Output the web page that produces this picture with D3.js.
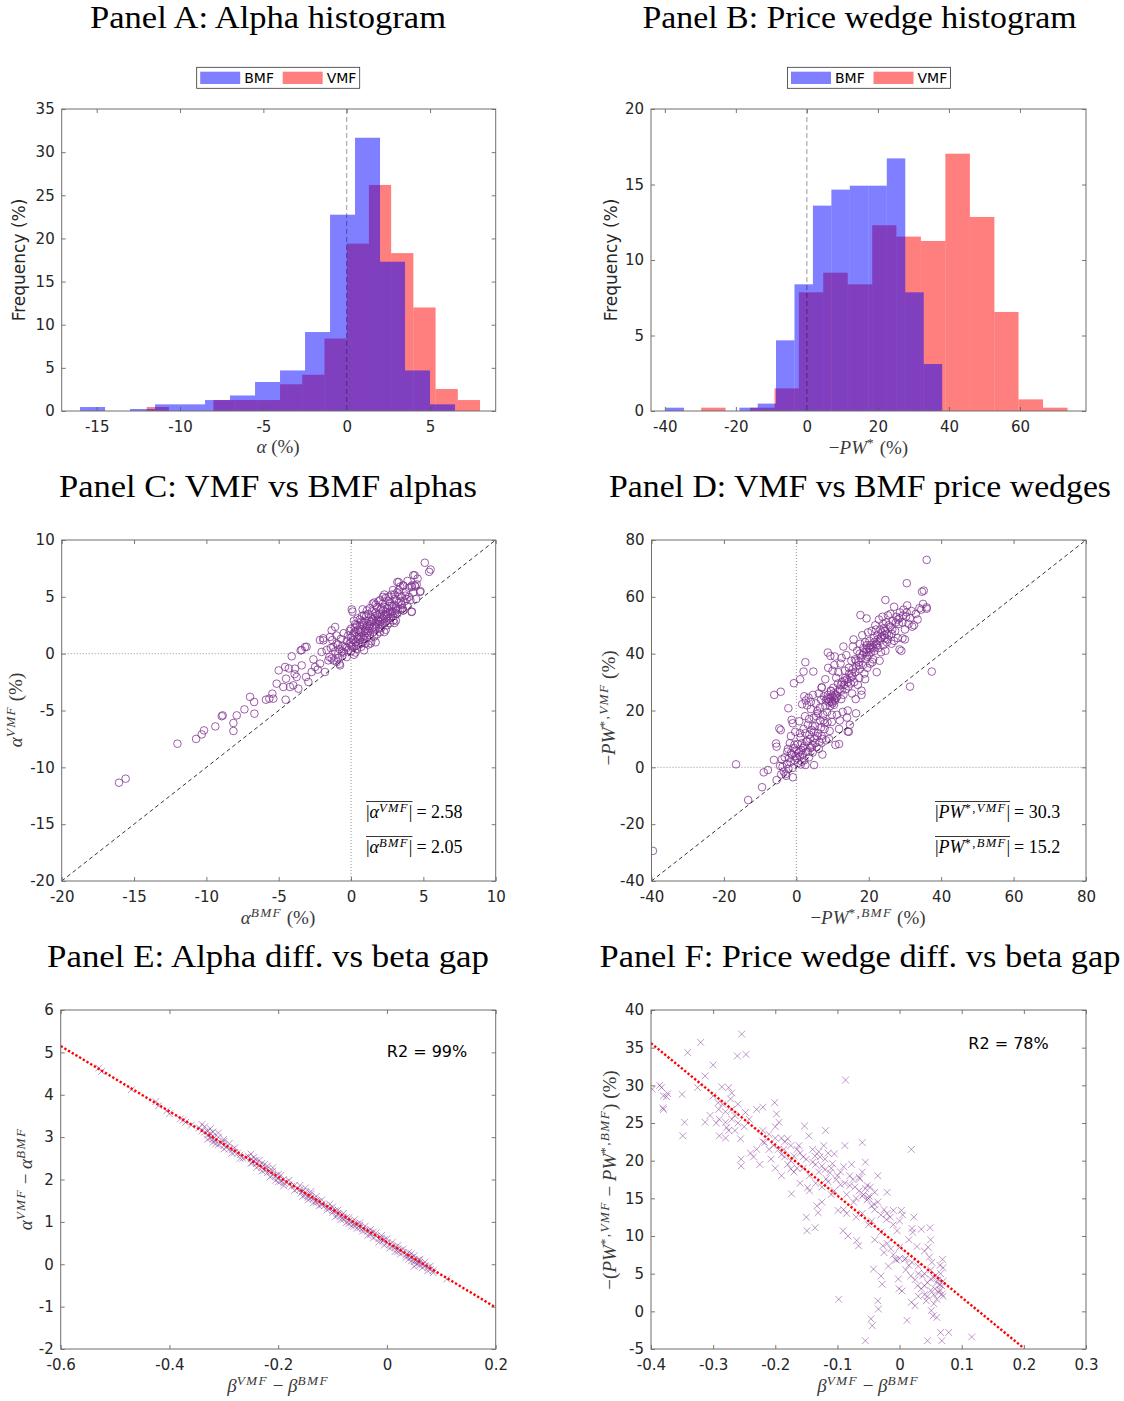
<!DOCTYPE html>
<html>
<head>
<meta charset="utf-8">
<script src="https://cdn.jsdelivr.net/npm/d3@7"></script>
<style>
  body { margin: 0; background: #fff; }
  text { font-family: "DejaVu Sans", sans-serif; }
</style>
</head>
<body>
<div id="chart"></div>
<script>

// ---- Panel A: alpha histograms (frequency in %) ----
var alphaBmfEdges = [-16, -14.5, -13, -11.5, -10, -8.5, -7, -5.5, -4, -2.5, -1, 0.5, 2, 3.5, 5, 6.5];
var alphaBmfFreq  = [0.46, 0, 0.23, 0.77, 0.77, 1.27, 1.8, 3.36, 4.7, 9.15, 22.75, 31.67, 17.3, 4.7, 0.77];
var alphaVmfEdges = [-12, -10.667, -9.333, -8, -6.667, -5.333, -4, -2.667, -1.333, 0, 1.333, 2.667, 4, 5.333, 6.667, 8];
var alphaVmfFreq  = [0.46, 0, 0, 1.27, 1.27, 1.27, 3.1, 4.2, 8.4, 19.4, 26.2, 18.3, 12.0, 2.55, 1.27];

// ---- Panel B: price wedge histograms ----
var pwBmfEdges = [-39.8, -34.6, -29.4, -24.2, -19.0, -13.85, -8.7, -3.5, 1.7, 6.9, 12.1, 17.3, 22.5, 27.7, 32.9, 38.1];
var pwBmfFreq  = [0.22, 0, 0, 0, 0.22, 0.49, 4.68, 8.39, 13.6, 14.66, 14.92, 14.92, 16.73, 7.86, 3.11];
var pwVmfEdges = [-29.76, -22.9, -16.0, -9.1, -2.26, 4.6, 11.5, 18.4, 25.2, 32.1, 39.0, 45.9, 52.8, 59.6, 66.5, 73.4];
var pwVmfFreq  = [0.22, 0, 0.22, 1.5, 7.86, 9.16, 8.39, 12.3, 11.55, 11.26, 17.04, 12.85, 6.56, 0.77, 0.22];

// ---- Panel C: alpha BMF (x) vs alpha VMF (y) ----
var alphaPairs = [
  [-16.04,-11.35],[-15.58,-11.0],[-12.0,-7.92],[-10.71,-7.5],[-10.32,-7.1],[-10.16,-6.75],[-9.38,-6.4],
  [-8.94,-5.5],[-8.87,-5.43],[-8.13,-6.8],[-8.13,-6.1],[-7.9,-5.43],[-7.37,-4.9],[-6.98,-3.8],[-6.68,-5.28],
  [-6.7,-4.25],[-5.88,-4.05],[-5.65,-3.96],[-5.44,-3.52],[-5.37,-3.96],[-5.14,-2.64],[-5.0,-1.47],[-4.56,-1.17],
  [-4.52,-4.05],[-4.49,-2.2],[-4.68,-2.93],[-4.22,-2.93],[-4.1,-0.23],[-3.99,-2.79],[-3.87,-1.32],[-3.76,-2.05],
  [-3.64,-3.08],[-3.48,0.29],[-3.41,-1.03],[-3.18,0.59],[-3.11,-2.05],[-2.95,-2.49],[-2.72,-1.61],[-2.49,-1.17],
  [-2.14,-0.88],[-2.03,0.15],[-1.8,-1.61],[-1.91,1.17],[-1.57,-0.59],[-1.45,1.47],[-1.34,2.05],[-1.1,2.35],
  [-1.22,0.59],[-0.99,-0.73],[-0.88,0],[-0.76,-1.03],[-2.15,1.2],[-1.92,1.35],[-1.69,0.32],[-1.34,-0.43],
  [-3.07,0.6],[-3.41,0.32],[-2.6,-0.5],[-2.3,-1.4],[-4.3,-1.3],[-3.9,-1.8],
  [-1.5,-0.3],[-1.4,0.5],[-1.3,1.2],[-1.2,-0.6],[-1.1,0.2],[-1.0,0.9],[-0.9,-0.4],[-0.8,0.4],[-0.7,1.3],
  [-0.6,-0.2],[-0.6,0.7],[-0.5,1.8],[-0.5,0.1],[-1.0,1.6],[-0.8,-0.9],
  [-0.4,0.6],[-0.3,1.1],[-0.3,-0.3],[-0.2,0.3],[-0.2,1.6],[-0.1,0.9],[0,0.2],[0,1.4],[0,2.2],[0.05,3.9],
  [0.1,3.7],[0.1,0.6],[0.2,1.8],[0.2,-0.1],[0.3,1.0],[0.3,2.6],[0.4,0.4],[0.4,1.5],[0.5,2.1],[0.5,0.8],
  [-0.1,2.0],[0.2,2.9],[0.0,0.7],[0.3,0.1],
  [0.6,1.2],[0.6,3.0],[0.7,0.6],[0.7,1.9],[0.8,2.5],[0.8,1.0],[0.9,3.4],[0.9,1.6],[1.0,0.9],[1.0,2.2],
  [1.0,2.9],[1.1,1.4],[1.1,3.8],[1.2,2.0],[1.2,0.8],[1.3,2.6],[1.3,1.6],[1.4,3.2],[1.4,1.1],[1.5,2.3],
  [1.5,4.4],[0.6,2.4],[0.8,3.9],[1.2,3.5],[1.3,4.0],[0.9,0.3],[1.4,2.8],[0.7,2.8],[1.1,2.5],
  [1.6,1.5],[1.6,2.9],[1.7,3.6],[1.7,2.2],[1.8,1.7],[1.8,4.1],[1.9,2.6],[1.9,3.2],[2.0,1.9],[2.0,4.7],
  [2.1,3.0],[2.1,2.3],[2.2,3.8],[2.2,4.4],[2.3,2.7],[2.3,1.9],[2.4,3.4],[2.4,4.9],[2.5,2.5],[2.5,4.0],
  [1.6,4.5],[1.9,4.6],[2.2,5.0],[2.0,3.5],[1.7,1.0],[2.4,2.1],
  [2.6,3.1],[2.6,4.6],[2.7,3.7],[2.7,2.7],[2.8,5.2],[2.8,4.2],[2.9,3.3],[3.0,4.8],[3.0,2.7],[3.1,4.0],
  [3.2,5.4],[3.2,3.5],[3.3,6.3],[3.3,4.5],[3.4,3.9],[3.5,5.0],[3.5,4.3],[2.9,5.6],[3.1,2.9],[3.4,5.9],
  [3.6,3.8],[3.6,6.0],[3.7,4.6],[3.8,5.4],[3.9,4.2],[4.0,5.0],[4.0,5.8],[4.2,3.7],[4.3,6.9],[4.3,5.4],
  [4.4,6.0],[4.45,5.9],[4.5,4.8],[4.8,5.5],[4.4,6.9],[4.1,4.7],[5.1,8.0],[5.4,7.2],[5.5,7.4],
  [3.2,6.3],[2.93,2.93],[3.62,3.81],[4.19,3.67],[4.77,5.43],[4.54,6.1],[4.19,5.87],[3.62,6.0],
  [0.15,1.2],[0.25,2.3],[0.35,0.7],[0.45,3.1],[0.55,1.6],[0.65,0.9],[0.75,3.3],[0.85,1.3],[0.95,2.0],
  [1.05,3.3],[1.15,1.8],[1.25,2.9],[1.35,0.9],[1.45,3.7],[1.55,1.9],[1.65,3.3],[1.75,2.6],[1.85,3.0],
  [1.95,2.2],[2.05,3.9],[2.15,2.6],[2.25,3.3],[2.35,4.1],[2.45,2.9],[2.55,3.5],[2.65,4.2],[2.75,3.2],
  [2.85,3.7],[2.95,4.3],[3.05,3.6],[3.15,4.7],[3.25,3.9],[3.35,5.1],[3.45,4.6],[3.55,4.0],[3.75,5.1],
  [3.85,4.8],[0.1,1.6],[0.4,2.5],[0.7,1.5],[1.0,1.8],[1.3,2.2],[1.6,2.4],[1.9,2.9],[2.2,3.1],[2.5,3.3],
  [2.8,3.5],[3.1,3.8],[-0.3,0.5],[-0.6,0.2],[-0.9,0.8],[0.5,1.3],[0.9,2.7],[1.2,2.4],[1.5,3.0],[1.8,3.4],
  [2.1,4.0],[2.4,3.7],[2.7,4.5],[3.0,5.2],[0.0,1.0],[0.3,1.9],[0.6,2.0],[1.7,4.3],[2.0,2.8],[2.3,5.2],
  [2.6,5.0],[3.3,5.6],[3.9,6.4],[4.2,6.0],[4.6,6.6]
];
var alphaMeanVmf = "2.58";
var alphaMeanBmf = "2.05";

// ---- Panel D: -PW BMF (x) vs -PW VMF (y) ----
var pwPairs = [
  [-39.6,-29.4],[-16.65,1.06],[-13.3,-11.5],[-9.47,-7.0],[-9.0,-1.76],[-7.85,-0.94],[-6.1,25.5],[-4.3,26.6],
  [-5.6,8.4],[-5.45,7.27],[-6.2,2.6],[-5.45,-4.5],[-4.7,13.7],[-4.3,13.1],[-2.2,20.8],[-1.3,16.7],
  [-0.67,29.6],[1.05,31.0],[2.5,37.0],[-0.96,-3.5],[2.0,33.7],[4.7,33.7],[4.9,0.8],[7.0,28.2],[8.7,40.4],
  [9.4,39.2],[10.8,7.9],[11.8,8.2],[14.2,12.6],[15.6,42.5],[17.7,53.6],[19.4,52.4],[24.6,58.9],[30.5,64.8],
  [36.0,73.0],[31.4,28.4],[37.4,33.7],[34.7,61.8],[35.2,62.2],[36.0,56.3],[29.3,45.4],[28.5,41.5],
  [-4.5,0.5],[-4,2.8],[-3.5,-1.5],[-3.2,3.5],[-3,-2.4],[-2.6,1.2],[-2.5,5.5],[-2.2,-0.5],[-2,3.2],
  [-1.8,8.5],[-1.6,1.8],[-1.5,11.0],[-1.2,4.5],[-1,-0.2],[-0.8,6.8],[-0.5,2.5],[-0.3,12.5],[-0.2,4.0],
  [-2.8,-3.0],[-3.8,0.2],[-4.2,-2.5],[-1,15.5],[-2.3,6.5],
  [0.2,3.2],[0.4,8.2],[0.6,5.0],[0.8,16.2],[1,3.8],[1.2,10.5],[1.4,6.0],[1.6,22.2],[1.8,4.5],[2,13.5],
  [2.2,7.5],[2.4,18.0],[2.6,23.5],[2.8,5.5],[3,9.2],[3.2,15.0],[3.4,24.5],[3.6,11.5],[3.8,6.8],[4,20.5],
  [4.2,13.2],[4.4,8.0],[4.6,25.5],[4.8,17.5],[5,10.2],[0.5,1.5],[1.5,2.0],[2.5,0.8],[3.5,3.5],[4.5,5.2],
  [2.2,25.0],[3.0,21.8],[4.0,23.0],[1.0,12.0],
  [5.2,14.5],[5.4,22.5],[5.6,7.2],[5.8,19.8],[6,12.0],[6.2,26.0],[6.4,9.0],[6.6,16.5],[6.8,23.8],[7,11.0],
  [7.2,4.5],[7.4,18.5],[7.6,25.0],[7.8,13.5],[8,21.5],[8.2,9.5],[8.4,24.2],[8.6,15.8],[8.8,35.0],[9,22.8],
  [9.2,12.8],[9.4,24.5],[9.6,26.8],[9.8,18.5],[10,25.0],[8.9,24.0],[9.5,23.2],[10,22.5],[6,19.0],[7,28.0],
  [8,31.0],[9,10.0],[10,34.0],[9.8,16.0],
  [10.2,28.0],[10.4,22.0],[10.6,39.0],[10.8,25.5],[11,31.5],[11.2,18.5],[11.4,26.5],[11.6,33.5],[11.8,13.5],
  [12,27.5],[12.2,36.5],[12.4,24.0],[12.6,30.0],[12.8,19.5],[13,42.5],[13.2,29.0],[13.4,34.0],[13.6,27.5],
  [13.8,39.5],[14,31.0],[14.2,20.0],[14.4,28.5],[14.6,33.0],[14.8,15.0],[15,29.5],[15.2,37.5],[12,16.5],
  [14,17.5],[11,24.5],[13,25.5],[15,31.5],[14.5,12.5],[12.5,38.5],[10.5,36.0],
  [15.4,26.0],[15.6,34.5],[15.8,45.0],[16,30.0],[16.2,38.0],[16.4,24.0],[16.6,35.5],[16.8,41.0],[17,29.0],
  [17.2,37.0],[17.4,31.5],[17.6,43.5],[17.8,38.5],[18,25.5],[18.2,46.5],[18.4,36.0],[18.6,40.5],[18.8,33.0],
  [19,44.0],[19.2,38.0],[19.4,41.5],[19.6,35.0],[19.8,47.5],[20,39.5],[16.5,19.0],[18,27.0],[19,31.0],
  [17.5,40.0],[19.5,43.0],[20,42.0],
  [20.2,44.5],[20.4,36.5],[20.6,40.5],[20.8,48.0],[21,42.5],[21.2,38.0],[21.4,45.5],[21.6,41.0],[21.8,50.0],
  [22,43.5],[22.2,33.5],[22.4,46.5],[22.6,42.0],[22.8,52.0],[23,44.5],[23.2,48.5],[23.4,40.5],[23.6,46.0],
  [23.8,53.0],[24,43.0],[24.2,49.0],[24.4,45.5],[24.6,41.0],[24.8,51.0],[25,47.0],[21,37.0],[23,37.5],
  [25,44.0],[22,48.5],[24,50.5],
  [25.3,53.5],[25.6,46.5],[26,49.5],[26.3,43.5],[26.6,51.5],[27,56.5],[27.3,48.0],[27.6,53.0],[28,45.5],
  [28.3,50.5],[28.6,54.5],[29,41.0],[29.3,51.0],[29.6,55.5],[30,48.5],[30.3,53.0],[30.6,57.0],[31,50.5],
  [31.4,52.5],[31.8,55.0],[32,49.5],[32.5,50.0],[33,54.0],[33.5,52.0],[34,56.0],[34.5,55.5],[35,57.5],
  [36,55.8],[26,54.0],[28,52.0],[30,45.0],[27,44.5],
  [1.5,8.5],[2.5,12.0],[3.5,17.0],[4.5,14.5],[5.5,18.0],[6.5,21.0],[7.5,16.5],[8.5,19.5],[9.5,27.0],
  [10.5,24.0],[11.5,29.5],[12.5,27.0],[13.5,31.5],[14.5,35.0],[15.5,32.0],[16.5,37.5],[17.5,34.5],[18.5,42.0],
  [19.5,39.0],[20.5,43.0],[21.5,44.0],[22.5,45.0],[23.5,47.5],[24.5,48.0],[25.5,50.0],[26.5,48.5],[27.5,51.0],
  [28.5,52.5],[29.5,53.5],[30.5,54.5],[8.2,23.5],[8.7,25.5],[9.3,21.5],[9.9,23.0],[10.3,26.0],[10.7,23.5],
  [11.3,25.0],[12.3,29.0],[13.3,30.5],[14.3,30.0],[15.3,33.0],[16.3,33.5],[17.3,36.0],[18.3,39.5],[19.3,40.5],
  [20.3,41.5],[21.3,42.0],[22.3,43.0],[23.3,45.5],[24.3,46.5],[25.3,45.0],[26.3,47.0],[0.8,5.5],[1.8,6.8],
  [2.8,9.0],[3.8,10.0],[4.8,12.5],[5.8,11.0],[6.8,14.0],[7.8,15.5],[1.2,1.0],[2.2,2.5],[3.2,5.5],[4.2,7.0],
  [5.2,8.5],[6.2,6.5],[7.2,10.0],[0.0,6.0],[-0.5,8.0],[-1.5,5.0]
];
var pwMeanVmf = "30.3";
var pwMeanBmf = "15.2";

// ---- Panel E: beta gap (x) vs alpha difference (y) ----
var alphaDiff = [
  [-0.53,4.63],[-0.525,4.55],[-0.47,4.12],[-0.425,3.84],[-0.42,3.74],[-0.405,3.62],[-0.40,3.55],[-0.38,3.43],
  [-0.375,3.40],[-0.37,3.35],[-0.36,3.28],[-0.345,3.22],[-0.34,3.30],[-0.335,3.12],[-0.33,3.05],[-0.33,3.14],
  [-0.325,2.98],[-0.325,3.08],[-0.32,2.95],[-0.32,3.03],[-0.315,2.92],[-0.31,3.0],[-0.305,2.86],[-0.30,2.80],
  [-0.30,2.90],[-0.295,2.76],[-0.29,2.72],[-0.285,2.70],[-0.28,2.64],[-0.275,2.62],[-0.27,2.58],[-0.26,2.52],
  [-0.25,2.48],[-0.248,2.40],[-0.245,2.44],[-0.24,2.38],[-0.24,2.46],[-0.235,2.33],[-0.23,2.28],[-0.23,2.38],
  [-0.225,2.22],[-0.22,2.25],[-0.22,2.16],[-0.215,2.18],[-0.21,2.10],[-0.21,2.20],[-0.205,2.08],[-0.20,2.02],
  [-0.20,2.12],[-0.195,1.96],[-0.19,2.0],[-0.19,1.92],[-0.185,1.94],[-0.18,1.88],[-0.175,1.84],[-0.17,1.86],
  [-0.165,1.78],[-0.16,1.76],[-0.158,1.68],[-0.155,1.72],[-0.15,1.64],[-0.15,1.70],[-0.145,1.62],[-0.145,1.58],
  [-0.14,1.56],[-0.14,1.66],[-0.135,1.55],[-0.13,1.50],[-0.13,1.46],[-0.125,1.48],[-0.12,1.42],[-0.12,1.40],
  [-0.115,1.38],[-0.11,1.34],[-0.105,1.32],[-0.10,1.27],[-0.10,1.22],[-0.095,1.26],[-0.09,1.20],[-0.09,1.16],
  [-0.085,1.14],[-0.08,1.12],[-0.08,1.06],[-0.075,1.10],[-0.07,1.02],[-0.07,0.96],[-0.065,1.00],[-0.06,0.96],
  [-0.06,0.90],[-0.055,0.94],[-0.05,0.86],[-0.05,0.92],[-0.045,0.84],[-0.04,0.80],[-0.035,0.78],[-0.03,0.74],
  [-0.03,0.70],[-0.025,0.76],[-0.02,0.66],[-0.015,0.60],[-0.01,0.62],[-0.008,0.55],[-0.005,0.58],[0.0,0.50],
  [0.005,0.46],[0.01,0.42],[0.015,0.40],[0.02,0.36],[0.02,0.30],[0.025,0.33],[0.03,0.28],[0.035,0.22],
  [0.04,0.20],[0.04,0.12],[0.045,0.16],[0.05,0.12],[0.05,0.06],[0.055,0.08],[0.06,0.04],[0.06,-0.02],
  [0.065,0.0],[0.07,-0.04],[0.075,-0.08],[0.08,-0.12],[0.085,-0.15],[0.11,-0.35],
  [-0.34,3.15],[-0.335,3.25],[-0.33,2.95],[-0.325,3.2],[-0.32,3.12],[-0.315,2.84],[-0.31,3.1],[-0.3,2.95],
  [-0.29,2.85],[-0.28,2.75],[-0.27,2.5],[-0.255,2.55],[-0.25,2.38],[-0.245,2.52],[-0.24,2.28],[-0.235,2.45],
  [-0.23,2.2],[-0.225,2.36],[-0.22,2.32],[-0.215,2.06],[-0.21,2.28],[-0.205,1.98],[-0.2,1.94],[-0.195,2.1],
  [-0.19,1.85],[-0.18,1.98],[-0.17,1.74],[-0.16,1.86],[-0.155,1.6],[-0.15,1.8],[-0.145,1.52],[-0.14,1.72],
  [-0.135,1.45],[-0.13,1.6],[-0.125,1.38],[-0.12,1.52],[-0.11,1.28],[-0.105,1.42],[-0.1,1.35],[-0.095,1.12],
  [-0.09,1.28],[-0.085,1.05],[-0.08,1.2],[-0.075,0.98],[-0.07,1.1],[-0.065,0.9],[-0.06,1.05],[-0.055,0.85],
  [-0.05,0.98],[-0.045,0.78],[-0.04,0.9],[-0.035,0.68],[-0.03,0.82],[-0.025,0.62],[-0.02,0.74],[-0.015,0.52],
  [-0.01,0.68],[-0.005,0.45],[0,0.6],[0.005,0.38],[0.01,0.52],[0.015,0.3],[0.02,0.44],[0.025,0.24],
  [0.03,0.36],[0.035,0.16],[0.04,0.28],[0.045,0.08],[0.05,0.2],[0.055,0.0],[0.06,0.12],[0.065,-0.08],
  [0.07,0.05],[0.075,-0.15],[0.08,-0.04],[0.085,-0.2],[0.05,-0.05],[0.06,0.1],[0.045,0.25],[-0.25,2.6],
  [-0.265,2.5],[-0.285,2.62],[-0.3,2.72],[-0.31,2.82],[-0.32,2.88]
];
var alphaFit = [[-0.6, 5.15], [0.2, -1.02]];
var alphaR2 = "R2 = 99%";

// ---- Panel F: beta gap (x) vs price wedge difference (y) ----
var pwDiff = [
  [-0.398,29.5],[-0.386,30.0],[-0.383,29.7],[-0.38,28.6],[-0.381,27.0],[-0.373,28.9],[-0.35,28.8],[-0.349,23.3],
  [-0.346,25.1],[-0.341,34.35],[-0.325,29.7],[-0.32,35.7],[-0.313,31.25],[-0.313,25.1],[-0.3,32.7],[-0.3,28.6],
  [-0.292,27.7],[-0.291,26.8],[-0.29,23.3],[-0.286,29.8],[-0.28,25.1],[-0.278,24.4],[-0.275,29.7],[-0.272,28.2],
  [-0.27,26.8],[-0.261,33.9],[-0.26,27.5],[-0.256,22.9],[-0.255,20.2],[-0.254,36.8],[-0.255,19.3],[-0.247,34.1],
  [-0.248,26.4],[-0.242,25.5],[-0.23,26.8],[-0.22,27.1],[-0.217,22.4],[-0.207,20.2],[-0.201,27.7],[-0.198,26.2],
  [-0.203,22.0],[-0.194,25.1],[-0.186,21.5],[-0.18,22.9],[-0.174,15.6],[-0.175,18.9],[-0.17,20.6],[-0.162,22.0],
  [-0.153,24.6],[-0.148,16.4],[-0.15,12.5],[-0.149,10.7],[-0.146,23.3],[-0.136,20.6],[-0.133,14.0],[-0.131,13.1],
  [-0.136,11.1],[-0.125,19.3],[-0.122,22.0],[-0.119,24.0],[-0.118,17.6],[-0.112,18.4],[-0.105,20.9],[-0.099,13.4],
  [-0.098,1.6],[-0.091,10.7],[-0.088,22.0],[-0.087,30.7],[-0.083,10.0],[-0.08,16.7],[-0.077,19.5],[-0.074,14.5],
  [-0.069,9.4],[-0.066,8.7],[-0.064,17.6],[-0.06,22.4],[-0.06,15.3],[-0.055,19.8],[-0.055,-3.9],[-0.052,16.7],
  [-0.049,15.3],[-0.046,-1.0],[-0.044,-1.9],[-0.042,5.6],[-0.041,14.2],[-0.035,18.0],[-0.035,1.4],[-0.034,0.3],
  [-0.03,4.7],[-0.028,3.6],[-0.027,8.7],[-0.021,12.2],[-0.02,15.8],[-0.014,8.3],[-0.01,13.4],[-0.007,6.9],
  [-0.004,10.7],[-0.002,4.3],[-0.001,3.0],[0.003,13.4],[0.004,2.7],[0.008,6.9],[0.012,-1.2],[0.015,6.1],
  [0.018,4.7],[0.019,21.5],[0.019,1.2],[0.021,10.5],[0.023,12.5],[0.025,0.75],[0.028,8.6],[0.029,3.4],
  [0.035,10.9],[0.037,4.7],[0.04,3.4],[0.043,1.4],[0.046,8.5],[0.045,-3.9],[0.049,11.1],[0.05,4.3],
  [0.051,0.1],[0.054,-0.6],[0.057,3.0],[0.06,-0.8],[0.063,2.5],[0.065,6.1],[0.066,-2.8],[0.068,2.3],
  [0.069,6.9],[0.068,-3.9],[0.079,-2.8],[0.116,-3.4],[0.068,3.4],
  [-0.21,21.5],[-0.19,20.8],[-0.18,19.5],[-0.16,21.0],[-0.14,19.8],[-0.13,18.5],[-0.12,20.2],[-0.11,19.0],
  [-0.10,18.0],[-0.09,19.2],[-0.13,21.2],[-0.115,17.2],[-0.095,16.8],[-0.075,17.5],[-0.065,16.0],[-0.05,15.0],
  [-0.045,14.0],[-0.04,15.8],[-0.02,13.0],[0.0,12.0],[0.01,7.0],[0.03,6.0],[0.04,5.0],[0.05,5.5],[0.055,4.5],
  [0.06,3.8],[0.065,2.8],[0.07,4.0],[0.045,2.0],[0.055,1.0],[-0.27,25.5],[-0.28,26.5],[-0.26,25.0],[-0.275,24.0],
  [-0.285,27.5],[-0.265,26.0],[-0.29,25.5],[-0.25,24.5],[-0.23,21.5],[-0.22,22.5],[-0.2,23.0],[-0.195,21.5],
  [-0.185,22.5],[-0.175,20.0],[-0.165,19.0],[-0.155,20.5],[-0.145,18.0],[-0.135,17.0],[-0.125,16.5],
  [-0.105,16.0],[-0.085,15.5],[-0.07,15.0],[-0.06,18.5],[-0.055,16.3],
  [-0.2,19.0],[-0.19,18.0],[-0.185,20.5],[-0.175,22.0],[-0.165,21.5],[-0.155,19.0],[-0.15,20.2],[-0.14,21.5],
  [-0.135,19.5],[-0.128,20.5],[-0.12,18.8],[-0.115,21.0],[-0.108,19.6],[-0.102,17.5],[-0.095,18.5],[-0.088,17.0],
  [-0.08,18.0],[-0.072,16.5],[-0.065,17.8],[-0.058,15.5],[-0.052,14.8],[-0.047,16.5],[-0.04,13.5],[-0.035,14.5],
  [-0.03,12.8],[-0.025,13.5],[-0.015,12.5],[-0.01,11.5],[0.005,12.8],[0.02,11.0],[0.03,2.0],[0.035,3.0],
  [0.04,2.2],[0.045,3.8],[0.05,2.8],[0.055,2.2],[0.06,1.6],[0.065,3.5],[0.07,2.0],[0.058,4.8],[0.062,4.2],
  [0.066,5.0],[0.07,5.8],[0.052,6.5],[0.048,7.2],[0.03,5.0],[0.025,4.2],[0.02,6.5],[0.01,5.5],[0.0,7.0],
  [-0.005,6.8],[-0.01,7.5],[-0.018,6.0],[-0.025,7.8],[-0.04,9.5],[-0.05,11.5],[-0.07,12.5],[-0.085,13.0],
  [-0.22,24.0],[-0.21,23.5],[-0.2,24.5],[-0.19,23.0],[-0.235,20.5],[-0.225,19.5],[-0.24,21.0],[-0.28,23.0],
  [-0.295,25.0],[-0.305,26.0],[-0.265,24.0],[-0.38,26.8],[-0.375,28.5],[-0.27,29.0],[-0.16,17.0],[-0.17,18.5],
  [-0.145,16.0],[-0.125,14.5],[-0.11,15.5],[-0.09,13.5],[-0.06,13.0],[-0.045,12.0],[-0.03,10.5],[-0.02,9.0],
  [0.0,8.5],[0.015,9.5],[0.04,8.0],[0.05,9.5]
];
var pwFit = [[-0.4, 35.6], [0.2, -4.9]];
var pwR2 = "R2 = 78%";

var legendLabels = ["BMF", "VMF"];

// ---------------------------------------------------------------------------

var purple = "#7e2f8e";
var axisColor = "#262626";
var mathSize = 19;

var svg = d3.select("#chart").append("svg")
    .attr("width", 1124)
    .attr("height", 1401);

// titles
var titles = [
    {text: "Panel A: Alpha histogram", x: 268, y: 28, len: 356},
    {text: "Panel B: Price wedge histogram", x: 859.5, y: 28, len: 434},
    {text: "Panel C: VMF vs BMF alphas", x: 268, y: 497, len: 418},
    {text: "Panel D: VMF vs BMF price wedges", x: 860, y: 497, len: 502},
    {text: "Panel E: Alpha diff. vs beta gap", x: 268, y: 967, len: 442},
    {text: "Panel F: Price wedge diff. vs beta gap", x: 860, y: 967, len: 521}
];
svg.selectAll(".title").data(titles).enter().append("text")
    .attr("class", "title")
    .attr("x", function(d) { return d.x; })
    .attr("y", function(d) { return d.y; })
    .attr("text-anchor", "middle")
    .attr("textLength", function(d) { return d.len; })
    .attr("lengthAdjust", "spacingAndGlyphs")
    .style("font-family", "'Liberation Serif', serif")
    .style("font-size", "32px")
    .style("fill", "#000")
    .text(function(d) { return d.text; });

// rich text: parts with italic / superscript flags
function rich(textSel, parts, size) {
    var shift = 0;
    parts.forEach(function(p) {
        var target = p.sup ? -0.36 * size : 0;
        var ts = textSel.append("tspan")
            .attr("dy", target - shift)
            .style("font-size", (p.sup ? size * 0.7 : size) + "px")
            .text(p.t);
        if (p.sup) ts.style("letter-spacing", "1.3px");
        if (p.it) ts.style("font-style", "italic");
        shift = target;
    });
    return textSel;
}

function mathLabel(x, y, parts, size, rotate) {
    var t = svg.append("text")
        .attr("text-anchor", "middle")
        .style("font-family", "'Liberation Serif', serif")
        .style("fill", "#3a3a3a");
    if (rotate) {
        t.attr("transform", "translate(" + x + "," + y + ") rotate(-90)");
    } else {
        t.attr("x", x).attr("y", y);
    }
    return rich(t, parts, size);
}

function sansLabel(x, y, text, size, rotate) {
    var t = svg.append("text")
        .attr("text-anchor", "middle")
        .style("font-size", size + "px")
        .style("fill", axisColor)
        .text(text);
    if (rotate) t.attr("transform", "translate(" + x + "," + y + ") rotate(-90)");
    else t.attr("x", x).attr("y", y);
    return t;
}

function makePanel(frame, xdom, ydom) {
    var p = {frame: frame};
    p.x = d3.scaleLinear().domain(xdom).range([frame.x0, frame.x1]);
    p.y = d3.scaleLinear().domain(ydom).range([frame.y1, frame.y0]);
    p.g = svg.append("g");
    var id = "clip" + Math.round(frame.x0) + "_" + Math.round(frame.y0);
    svg.append("clipPath").attr("id", id).append("rect")
        .attr("x", frame.x0).attr("y", frame.y0)
        .attr("width", frame.x1 - frame.x0).attr("height", frame.y1 - frame.y0);
    p.plot = p.g.append("g").attr("clip-path", "url(#" + id + ")");
    return p;
}

function drawAxes(p, xticks, yticks) {
    var f = p.frame;
    var fmt = function(d) { return String(d); };
    var styleAxis = function(g) {
        g.select(".domain").remove();
        g.selectAll(".tick line").attr("stroke", "#555").attr("stroke-width", 0.8);
        g.selectAll("text")
            .style("font-family", "'DejaVu Sans', sans-serif")
            .style("font-size", "15px")
            .style("fill", axisColor);
    };
    p.g.append("g").attr("transform", "translate(0," + f.y1 + ")")
        .call(d3.axisBottom(p.x).tickValues(xticks).tickFormat(fmt).tickSizeInner(-4).tickSizeOuter(0).tickPadding(10))
        .call(styleAxis);
    p.g.append("g").attr("transform", "translate(0," + f.y0 + ")")
        .call(d3.axisTop(p.x).tickValues(xticks).tickFormat("").tickSizeInner(-4).tickSizeOuter(0))
        .call(styleAxis);
    p.g.append("g").attr("transform", "translate(" + f.x0 + ",0)")
        .call(d3.axisLeft(p.y).tickValues(yticks).tickFormat(fmt).tickSizeInner(-4).tickSizeOuter(0).tickPadding(7))
        .call(styleAxis);
    p.g.append("g").attr("transform", "translate(" + f.x1 + ",0)")
        .call(d3.axisRight(p.y).tickValues(yticks).tickFormat("").tickSizeInner(-4).tickSizeOuter(0))
        .call(styleAxis);
    p.g.append("rect")
        .attr("x", f.x0).attr("y", f.y0)
        .attr("width", f.x1 - f.x0).attr("height", f.y1 - f.y0)
        .attr("fill", "none").attr("stroke", "#6e6e6e").attr("stroke-width", 1);
}

function drawHist(p, edges, freq, color) {
    var bins = freq.map(function(v, i) { return {x0: edges[i], x1: edges[i + 1], v: v}; })
        .filter(function(d) { return d.v > 0; });
    p.plot.append("g").selectAll("rect").data(bins).enter().append("rect")
        .attr("x", function(d) { return p.x(d.x0); })
        .attr("width", function(d) { return p.x(d.x1) - p.x(d.x0); })
        .attr("y", function(d) { return p.y(d.v); })
        .attr("height", function(d) { return p.y(0) - p.y(d.v); })
        .attr("fill", color)
        .attr("fill-opacity", 0.5);
}

function drawLegend(x, y) {
    var g = svg.append("g").attr("transform", "translate(" + x + "," + y + ")");
    g.append("rect").attr("width", 163).attr("height", 21)
        .attr("fill", "#fff").attr("stroke", "#333").attr("stroke-width", 0.8);
    var items = [{label: legendLabels[0], color: "#0000ff", dx: 3.5}, {label: legendLabels[1], color: "#ff0000", dx: 86}];
    items.forEach(function(it) {
        g.append("rect").attr("x", it.dx).attr("y", 4.4).attr("width", 40).attr("height", 12.3)
            .attr("fill", it.color).attr("fill-opacity", 0.5);
        g.append("text").attr("x", it.dx + 44).attr("y", 15.5)
            .style("font-size", "14px").style("fill", "#000").text(it.label);
    });
}

function zeroVLine(p, dash, color, op) {
    p.plot.append("line")
        .attr("x1", p.x(0)).attr("x2", p.x(0))
        .attr("y1", p.frame.y0).attr("y2", p.frame.y1)
        .attr("stroke", color).attr("stroke-opacity", op)
        .attr("stroke-width", 0.9).attr("stroke-dasharray", dash);
}
function zeroHLine(p, dash, color, op) {
    p.plot.append("line")
        .attr("x1", p.frame.x0).attr("x2", p.frame.x1)
        .attr("y1", p.y(0)).attr("y2", p.y(0))
        .attr("stroke", color).attr("stroke-opacity", op)
        .attr("stroke-width", 0.9).attr("stroke-dasharray", dash);
}
function diagonal(p) {
    var d = p.x.domain();
    p.plot.append("line")
        .attr("x1", p.x(d[0])).attr("y1", p.y(d[0]))
        .attr("x2", p.x(d[1])).attr("y2", p.y(d[1]))
        .attr("stroke", "#000").attr("stroke-width", 0.8).attr("stroke-dasharray", "4,3");
}
function circles(p, pts) {
    p.plot.append("g").selectAll("circle").data(pts).enter().append("circle")
        .attr("cx", function(d) { return p.x(d[0]); })
        .attr("cy", function(d) { return p.y(d[1]); })
        .attr("r", 3.8)
        .attr("fill", "none")
        .attr("stroke", purple)
        .attr("stroke-opacity", 0.85)
        .attr("stroke-width", 0.9);
}
function crosses(p, pts) {
    var s = 3.4;
    p.plot.append("g").selectAll("path").data(pts).enter().append("path")
        .attr("d", function(d) {
            var cx = p.x(d[0]), cy = p.y(d[1]);
            return "M" + (cx - s) + "," + (cy - s) + "L" + (cx + s) + "," + (cy + s) +
                   "M" + (cx - s) + "," + (cy + s) + "L" + (cx + s) + "," + (cy - s);
        })
        .attr("stroke", purple)
        .attr("stroke-opacity", 0.55)
        .attr("stroke-width", 0.9)
        .attr("fill", "none");
}
function fitLine(p, pts) {
    p.plot.append("path")
        .datum(pts)
        .attr("d", d3.line().x(function(d) { return p.x(d[0]); }).y(function(d) { return p.y(d[1]); }))
        .attr("stroke", "#ff0000").attr("stroke-width", 2.4)
        .attr("stroke-dasharray", "2.3,2").attr("fill", "none");
}
function meanNote(x, y, sym, supParts, value) {
    var t = svg.append("text").attr("x", x).attr("y", y)
        .style("font-family", "'Liberation Serif', serif").style("fill", "#000");
    var parts = [{t: "|"}].concat(sym).concat(supParts).concat([{t: "|"}]);
    rich(t, parts, 18);
    var bb = t.node().getBBox();
    svg.append("line")
        .attr("x1", bb.x).attr("x2", bb.x + bb.width)
        .attr("y1", bb.y + 1).attr("y2", bb.y + 1)
        .attr("stroke", "#000").attr("stroke-width", 0.8);
    svg.append("text").attr("x", bb.x + bb.width + 4).attr("y", y)
        .style("font-family", "'Liberation Serif', serif").style("font-size", "18px").style("fill", "#000")
        .text("= " + value);
}

// ---- Panel A ----
var pA = makePanel({x0: 61.7, x1: 495.7, y0: 109, y1: 411}, [-17.1, 8.94], [0, 35]);
drawHist(pA, alphaVmfEdges, alphaVmfFreq, "#ff0000");
drawHist(pA, alphaBmfEdges, alphaBmfFreq, "#0000ff");
zeroVLine(pA, "5,3", "#000", 0.45);
drawAxes(pA, [-15, -10, -5, 0, 5], [0, 5, 10, 15, 20, 25, 30, 35]);
drawLegend(196.7, 67.3);
sansLabel(25, 260, "Frequency (%)", 17, true);
mathLabel(278, 453, [{t: "α", it: true}, {t: " (%)"}], mathSize);

// ---- Panel B ----
var pB = makePanel({x0: 651, x1: 1086, y0: 109, y1: 411}, [-43.9, 78.6], [0, 20]);
drawHist(pB, pwVmfEdges, pwVmfFreq, "#ff0000");
drawHist(pB, pwBmfEdges, pwBmfFreq, "#0000ff");
zeroVLine(pB, "5,3", "#000", 0.45);
drawAxes(pB, [-40, -20, 0, 20, 40, 60], [0, 5, 10, 15, 20]);
drawLegend(787.5, 67.3);
sansLabel(617, 260, "Frequency (%)", 17, true);
mathLabel(868.5, 454, [{t: "−"}, {t: "PW", it: true}, {t: "*", sup: true}, {t: " (%)"}], mathSize);

// ---- Panel C ----
var pC = makePanel({x0: 61.7, x1: 495.7, y0: 540, y1: 881}, [-20, 10], [-20, 10]);
zeroVLine(pC, "1,2", "#888", 1);
zeroHLine(pC, "1,2", "#888", 1);
circles(pC, alphaPairs);
diagonal(pC);
drawAxes(pC, [-20, -15, -10, -5, 0, 5, 10], [-20, -15, -10, -5, 0, 5, 10]);
meanNote(366, 818, [{t: "α", it: true}], [{t: "VMF", sup: true, it: true}], alphaMeanVmf);
meanNote(366, 853, [{t: "α", it: true}], [{t: "BMF", sup: true, it: true}], alphaMeanBmf);
mathLabel(278, 924, [{t: "α", it: true}, {t: "BMF", sup: true, it: true}, {t: " (%)"}], mathSize);
mathLabel(22, 710, [{t: "α", it: true}, {t: "VMF", sup: true, it: true}, {t: " (%)"}], mathSize, true);

// ---- Panel D ----
var pD = makePanel({x0: 651.5, x1: 1086, y0: 540, y1: 881}, [-40, 80], [-40, 80]);
zeroVLine(pD, "1,2", "#888", 1);
zeroHLine(pD, "1,2", "#888", 1);
circles(pD, pwPairs);
diagonal(pD);
drawAxes(pD, [-40, -20, 0, 20, 40, 60, 80], [-40, -20, 0, 20, 40, 60, 80]);
meanNote(935, 818, [{t: "PW", it: true}], [{t: "*,", sup: true}, {t: "VMF", sup: true, it: true}], pwMeanVmf);
meanNote(935, 853, [{t: "PW", it: true}], [{t: "*,", sup: true}, {t: "BMF", sup: true, it: true}], pwMeanBmf);
mathLabel(868, 924, [{t: "−"}, {t: "PW", it: true}, {t: "*,", sup: true}, {t: "BMF", sup: true, it: true}, {t: " (%)"}], mathSize);
mathLabel(615, 708, [{t: "−"}, {t: "PW", it: true}, {t: "*,", sup: true}, {t: "VMF", sup: true, it: true}, {t: " (%)"}], mathSize, true);

// ---- Panel E ----
var pE = makePanel({x0: 60.7, x1: 495.7, y0: 1010, y1: 1349}, [-0.6, 0.2], [-2, 6]);
crosses(pE, alphaDiff);
fitLine(pE, alphaFit);
drawAxes(pE, [-0.6, -0.4, -0.2, 0, 0.2], [-2, -1, 0, 1, 2, 3, 4, 5, 6]);
svg.append("text").attr("x", 427).attr("y", 1057).attr("text-anchor", "middle")
    .style("font-size", "16px").style("fill", "#000").text(alphaR2);
mathLabel(278, 1392, [{t: "β", it: true}, {t: "VMF", sup: true, it: true}, {t: " − "}, {t: "β", it: true}, {t: "BMF", sup: true, it: true}], mathSize);
mathLabel(32, 1179, [{t: "α", it: true}, {t: "VMF", sup: true, it: true}, {t: " − "}, {t: "α", it: true}, {t: "BMF", sup: true, it: true}], mathSize, true);

// ---- Panel F ----
var pF = makePanel({x0: 651, x1: 1086, y0: 1010, y1: 1349}, [-0.4, 0.3], [-5, 40]);
crosses(pF, pwDiff);
fitLine(pF, pwFit);
drawAxes(pF, [-0.4, -0.3, -0.2, -0.1, 0, 0.1, 0.2, 0.3], [-5, 0, 5, 10, 15, 20, 25, 30, 35, 40]);
svg.append("text").attr("x", 1008.5).attr("y", 1049).attr("text-anchor", "middle")
    .style("font-size", "16px").style("fill", "#000").text(pwR2);
mathLabel(868, 1392, [{t: "β", it: true}, {t: "VMF", sup: true, it: true}, {t: " − "}, {t: "β", it: true}, {t: "BMF", sup: true, it: true}], mathSize);
mathLabel(616, 1180, [{t: "−("}, {t: "PW", it: true}, {t: "*,", sup: true}, {t: "VMF", sup: true, it: true},
    {t: " − "}, {t: "PW", it: true}, {t: "*,", sup: true}, {t: "BMF", sup: true, it: true}, {t: ") (%)"}], mathSize, true);

</script>
</body>
</html>
